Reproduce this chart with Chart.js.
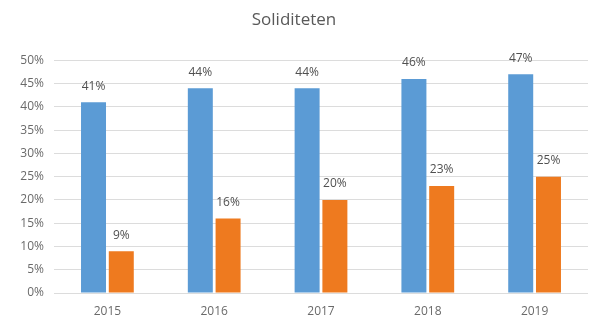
<!DOCTYPE html>
<html>
<head>
<meta charset="utf-8">
<script src="https://cdn.jsdelivr.net/npm/chart.js@4/dist/chart.umd.min.js"></script>
<style>
  html, body { margin: 0; padding: 0; background: #ffffff; }
  #wrap { width: 590px; height: 324px; }
</style>
</head>
<body>
<div id="wrap"><canvas id="c" width="590" height="324"></canvas></div>
<script>
const categories = ["2015", "2016", "2017", "2018", "2019"];
const seriesA = [41, 44, 44, 46, 47];
const seriesB = [9, 16, 20, 23, 25];
const titleText = "Soliditeten";

const labelPlugin = {
  id: 'valueLabels',
  afterDatasetsDraw(chart) {
    const ctx = chart.ctx;
    ctx.save();
    ctx.font = '12px "Open Sans", sans-serif';
    ctx.fillStyle = '#505050';
    ctx.textAlign = 'center';
    ctx.textBaseline = 'middle';
    chart.data.datasets.forEach((ds, i) => {
      const meta = chart.getDatasetMeta(i);
      meta.data.forEach((bar, j) => {
        ctx.fillText(ds.data[j] + '%', bar.x, bar.y - 16);
      });
    });
    ctx.restore();
  }
};

new Chart(document.getElementById('c'), {
  type: 'bar',
  data: {
    labels: categories,
    datasets: [
      { label: 'A', data: seriesA, backgroundColor: '#5B9BD5', barPercentage: 0.9, categoryPercentage: 0.52 },
      { label: 'B', data: seriesB, backgroundColor: '#EE7A1F', barPercentage: 0.9, categoryPercentage: 0.52 }
    ]
  },
  options: {
    responsive: false,
    animation: false,
    layout: { padding: { left: 0, right: 2, top: 0, bottom: 3 } },
    plugins: {
      legend: { display: false },
      tooltip: { enabled: false },
      title: {
        display: true,
        text: titleText,
        color: '#595959',
        font: { family: '"Open Sans", sans-serif', size: 17, weight: 'normal' },
        padding: { top: 10, bottom: 30 }
      }
    },
    scales: {
      x: {
        afterFit: s => { s.height = 28; },
        grid: { display: false },
        border: { display: false },
        ticks: { color: '#6a6a6a', font: { family: '"Open Sans", sans-serif', size: 12 }, padding: 3 }
      },
      y: {
        min: 0, max: 50,
        afterFit: s => { s.width = 54; },
        ticks: { stepSize: 5, color: '#6a6a6a', font: { family: '"Open Sans", sans-serif', size: 12 }, callback: v => v + '%', padding: 10 },
        grid: { color: '#dcdcdc', drawTicks: false },
        border: { display: false }
      }
    }
  },
  plugins: [labelPlugin]
});
</script>
</body>
</html>
